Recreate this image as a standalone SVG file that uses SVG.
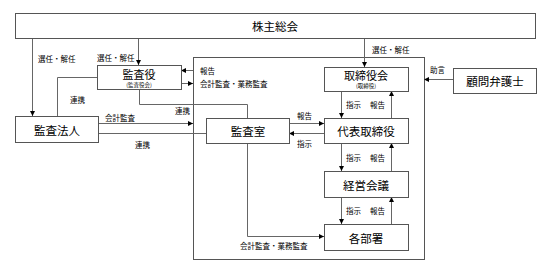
<svg xmlns="http://www.w3.org/2000/svg" width="546" height="268" viewBox="0 0 546 268">
<defs>
<marker id="ah" viewBox="0 0 6 6" refX="6" refY="3" markerWidth="5" markerHeight="5" orient="auto" markerUnits="userSpaceOnUse">
<path d="M0,0 L6,3 L0,6 Z" fill="#000"/>
</marker>
</defs>
<style>
.box{fill:#fff;stroke:#555;stroke-width:1}
.cont{fill:none;stroke:#555;stroke-width:1}
.ln{fill:none;stroke:#666;stroke-width:1}
.arr{fill:none;stroke:#666;stroke-width:1;marker-end:url(#ah)}
.t{font-family:"Noto Sans CJK JP","Noto Sans",sans-serif;font-size:11.5px;fill:#000;text-anchor:middle;dominant-baseline:central}
.t2{font-family:"Noto Sans CJK JP","Noto Sans",sans-serif;font-size:11px;fill:#000;text-anchor:middle;dominant-baseline:central}
.s{font-family:"Noto Sans CJK JP","Noto Sans",sans-serif;font-size:5.5px;fill:#000;text-anchor:middle;dominant-baseline:central}
.l{font-family:"Noto Sans CJK JP","Noto Sans",sans-serif;font-size:7.5px;fill:#000;dominant-baseline:central}
</style>
<rect width="546" height="268" fill="#fff"/>
<rect class="cont" x="193.5" y="57.5" width="231" height="202"/>
<g id="connectors">
<path class="arr" d="M32.5,38 V116"/>
<path class="arr" d="M138.5,38 V65"/>
<path class="arr" d="M364.5,38 V67"/>
<path class="arr" d="M453,79.5 H424"/>
<path class="arr" d="M193,70.5 H181"/>
<path class="arr" d="M181,83.5 H193"/>
<path class="ln" d="M97,77.5 H57.5 V116"/>
<path class="ln" d="M139.5,89 V104.5 H247.5 V118"/>
<path class="arr" d="M98,123.5 H193"/>
<path class="ln" d="M98,133.5 H206"/>
<path class="arr" d="M289,123.5 H324"/>
<path class="arr" d="M324,133.5 H289"/>
<path class="arr" d="M247.5,143 V236.5 H324"/>
<path class="arr" d="M341.5,91 V118"/>
<path class="arr" d="M391.5,118 V91"/>
<path class="arr" d="M341.5,143 V171"/>
<path class="arr" d="M391.5,171 V143"/>
<path class="arr" d="M341.5,197 V224"/>
<path class="arr" d="M391.5,224 V197"/>
</g>
<g id="labels">
<text class="l" x="38" y="58">選任・解任</text>
<text class="l" x="97" y="57">選任・解任</text>
<text class="l" x="372" y="49">選任・解任</text>
<text class="l" x="430" y="69">助言</text>
<text class="l" x="200" y="70">報告</text>
<text class="l" x="200" y="83">会計監査・業務監査</text>
<text class="l" x="70" y="99">連携</text>
<text class="l" x="175" y="110">連携</text>
<text class="l" x="105" y="117">会計監査</text>
<text class="l" x="135" y="144">連携</text>
<text class="l" x="297" y="115">報告</text>
<text class="l" x="297" y="143">指示</text>
<text class="l" x="240" y="245">会計監査・業務監査</text>
<text class="l" x="346" y="104">指示</text>
<text class="l" x="370" y="104">報告</text>
<text class="l" x="346" y="157">指示</text>
<text class="l" x="370" y="157">報告</text>
<text class="l" x="346" y="210">指示</text>
<text class="l" x="370" y="210">報告</text>
</g>
<g id="shareholders">
<rect class="box" x="15.5" y="13.5" width="520" height="25"/>
<text class="t" x="275" y="26">株主総会</text>
</g>
<g id="auditor">
<rect class="box" x="97.5" y="65.5" width="84" height="24"/>
<text class="t2" x="139" y="74">監査役</text>
<text class="s" x="139" y="85">(監査役会)</text>
</g>
<g id="audit-firm">
<rect class="box" x="15.5" y="116.5" width="83" height="26"/>
<text class="t" x="57" y="129.5">監査法人</text>
</g>
<g id="audit-office">
<rect class="box" x="206.5" y="118.5" width="83" height="25"/>
<text class="t" x="248" y="131">監査室</text>
</g>
<g id="board">
<rect class="box" x="324.5" y="67.5" width="84" height="24"/>
<text class="t2" x="366" y="75">取締役会</text>
<text class="s" x="366" y="86.3">(取締役)</text>
</g>
<g id="ceo">
<rect class="box" x="324.5" y="118.5" width="84" height="25"/>
<text class="t" x="366" y="131">代表取締役</text>
</g>
<g id="mgmt">
<rect class="box" x="324.5" y="171.5" width="84" height="26"/>
<text class="t" x="366" y="184.5">経営会議</text>
</g>
<g id="depts">
<rect class="box" x="324.5" y="224.5" width="84" height="26"/>
<text class="t" x="366" y="237.5">各部署</text>
</g>
<g id="lawyer">
<rect class="box" x="453.5" y="68.5" width="83" height="25"/>
<text class="t" x="495" y="81">顧問弁護士</text>
</g>
</svg>
